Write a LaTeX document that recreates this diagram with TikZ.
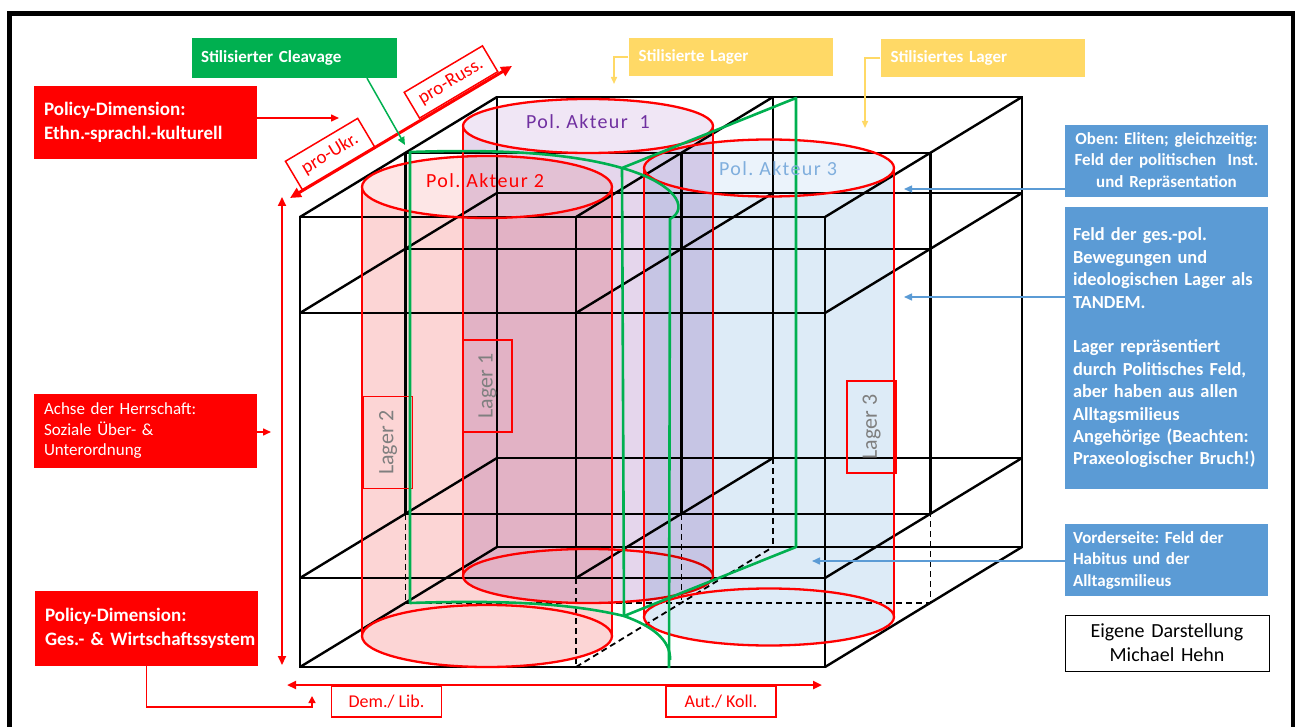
\documentclass[tikz,border=0pt]{standalone}
\usepackage{fontspec}
\setmainfont{Carlito}
\newfontfamily\widefont[LetterSpace=7]{Carlito}
\usetikzlibrary{arrows.meta}

\definecolor{pptred}{HTML}{FF0000}
\definecolor{pptgreen}{HTML}{00B050}
\definecolor{pptyellow}{HTML}{FFD966}
\definecolor{pptblue}{HTML}{5B9BD5}
\definecolor{actorpurple}{HTML}{7030A0}
\definecolor{actorblue}{HTML}{7FAEDD}
\definecolor{lagergray}{HTML}{7F7F7F}
\definecolor{cylAbody}{HTML}{E5D6EC}
\definecolor{cylAtop}{HTML}{F0E6F5}
\definecolor{cylBbody}{HTML}{FCD5D5}
\definecolor{cylBtop}{HTML}{FDE6E6}
\definecolor{cylCbody}{HTML}{DDEBF7}
\definecolor{cylCtop}{HTML}{EBF3FB}

% font sizes (1pt = 1px of the final picture)
\newcommand\fsbig{\fontsize{19}{24}\selectfont}
\newcommand\fsachse{\fontsize{17}{20.5}\selectfont}
\newcommand\fsmid{\fontsize{17}{21}\selectfont}
\newcommand\fsblue{\fontsize{17}{21.5}\selectfont}
\newcommand\fsfeld{\fontsize{18.4}{22.4}\selectfont}
\newcommand\fscredit{\fontsize{20}{24}\selectfont}
\newcommand\fspole{\fontsize{18}{22}\selectfont}
\newcommand\fspro{\fontsize{19}{22}\selectfont}
\newcommand\fsactor{\fontsize{20}{24}\selectfont}
\newcommand\fslager{\fontsize{22}{26}\selectfont}

% transparent cylinder: centre x, lid y, base y, x radius, y radius, body colour, lid colour
\newcommand\drawcylinder[7]{%
  \begin{scope}[blend mode=multiply]
    \fill[#6] (#1-#4,#2) -- (#1-#4,#3) arc[start angle=180,end angle=0,x radius=#4,y radius=#5]
      -- (#1+#4,#2) arc[start angle=0,end angle=180,x radius=#4,y radius=#5] -- cycle;
    \fill[#7] (#1,#2) ellipse[x radius=#4,y radius=#5];
  \end{scope}
  \draw[cylline] (#1-#4,#2) -- (#1-#4,#3) (#1+#4,#2) -- (#1+#4,#3);
  \draw[cylline] (#1,#3) ellipse[x radius=#4,y radius=#5];
  \draw[cylline] (#1,#2) ellipse[x radius=#4,y radius=#5];
}

\begin{document}
\frenchspacing
\begin{tikzpicture}[x=1pt,y=-1pt,z={(197pt,120pt)},
  cube/.style={line width=2.4pt},
  hidden/.style={line width=1.8pt,dash pattern=on 6pt off 4pt},
  cylline/.style={draw=pptred,line width=2.3pt},
  cleave/.style={draw=pptgreen,line width=2.6pt},
  redbox/.style={fill=pptred,text=white,text width=203pt,inner xsep=10pt,inner ysep=0pt,align=left},
  greenbox/.style={fill=pptgreen,text=white,font=\bfseries\fsmid,text width=187pt,inner xsep=9pt,inner ysep=0pt,minimum height=40pt,align=left},
  yellowbox/.style={fill=pptyellow,text=white,font=\bfseries\fsmid,text width=184pt,inner xsep=10pt,inner ysep=0pt,minimum height=38pt,align=left},
  bluebox/.style={fill=pptblue,text=white,font=\bfseries\fsblue,text width=187pt,inner xsep=8pt,inner ysep=0pt},
  creditbox/.style={draw=black,line width=1pt,fill=white,font=\fscredit,text width=190pt,inner xsep=7pt,inner ysep=0pt,minimum height=56pt,align=center},
  polebox/.style={draw=pptred,line width=1.5pt,fill=white,text=pptred,font=\fspole,minimum width=110pt,minimum height=31pt,inner sep=0pt},
  probox/.style={draw=pptred,line width=1.5pt,fill=white,text=pptred,font=\fspro,rotate=30.7,inner sep=0pt},
  lagerbox/.style={draw=pptred,line width=1.5pt,rotate=90,text=lagergray,font=\fslager,minimum width=92pt,minimum height=49pt,inner sep=0pt},
  actor/.style={font=\widefont\fsactor,inner sep=0pt},
  redarrow/.style={draw=pptred,line width=1.5pt,-{Triangle[length=8pt,width=7pt]}},
  yellowarrow/.style={draw=pptyellow,line width=1.5pt,-{Triangle[length=7pt,width=6pt]}},
  bluearrow/.style={draw=pptblue,line width=1.5pt,-{Triangle[length=8pt,width=7pt]}},
]
\useasboundingbox (0,0) rectangle (1295,727);

% outer frame
\draw[line width=5pt] (9.5,760) -- (9.5,13.5) -- (1293.5,13.5) -- (1293.5,760);

% ---- the cube: front, middle and back planes ----
\foreach \z in {0,1} {
  \draw[cube] (300,217,\z) -- (825,217,\z) -- (825,667,\z) -- (300,667,\z) -- cycle;
  \draw[cube] (300,313,\z) -- (825,313,\z);
  \draw[cube] (300,578,\z) -- (825,578,\z);
  \draw[cube] (576,217,\z) -- (576,578,\z);
  \draw[hidden] (576,578,\z) -- (576,667,\z);
}
\draw[cube] (300,578,0.535) -- (300,217,0.535) -- (825,217,0.535) -- (825,578,0.535);
\draw[cube] (300,313,0.535) -- (825,313,0.535);
\draw[cube] (300,578,0.535) -- (825,578,0.535);
\draw[cube] (576,217,0.535) -- (576,578,0.535);
\draw[hidden] (300,578,0.535) -- (300,667,0.535) -- (825,667,0.535) -- (825,578,0.535);
\draw[hidden] (576,578,0.535) -- (576,667,0.535);
% depth edges
\foreach \x in {300,576,825} \foreach \y in {217,313,578}
  \draw[cube] (\x,\y,0) -- (\x,\y,1);
\draw[cube] (300,667,0) -- (300,667,1);
\draw[cube] (825,667,0) -- (825,667,1);
\draw[hidden] (576,667,0) -- (576,667,1);

% ---- actors as cylinders ----
\drawcylinder{588}{126}{576}{125}{27}{cylAbody}{cylAtop}
\drawcylinder{487}{187}{636}{125}{31}{cylBbody}{cylBtop}
\drawcylinder{769}{168}{617}{125}{28.5}{cylCbody}{cylCtop}

% camps
\node[lagerbox] (lagI) at (487.5,386) {Lager 1};
\node[lagerbox] (lagII) at (388,442.5) {Lager 2};
\node[lagerbox] (lagIII) at (871.5,427) {Lager 3};

% ---- stylised cleavage ----
\draw[cleave,line join=round] (410,152) .. controls (500,149) and (570,153) .. (622,168)
  -- (796,98) -- (796,547) -- (624,616) .. controls (570,603) and (500,600) .. (410,603) -- cycle;
\draw[cleave] (622,168) -- (624,616);
\draw[cleave] (622,168) .. controls (675,183) and (690,208) .. (670,219) -- (669,668);
\draw[cleave] (624,616) .. controls (652,626) and (671,640) .. (670,660);

\node[actor,text=actorpurple] (actA) at (588,122) {Pol. Akteur~~1};
\node[actor,text=pptred] (actB) at (485,181) {Pol. Akteur 2};
\node[actor,text=actorblue] (actC) at (778,169) {Pol. Akteur 3};

% ---- left side: policy dimensions and axis of domination ----
\node[redbox,font=\bfseries\fsbig,minimum height=73pt] (polEth) at (145.5,122.5)
  {Policy-Dimension:\\Ethn.-sprachl.-kulturell};
\node[redbox,font=\fsachse,minimum height=74pt] (achse) at (145.5,431)
  {Achse der Herrschaft:\\Soziale Über- \&\\Unterordnung};
\node[redbox,font=\bfseries\fsbig,minimum height=75pt] (polGes) at (146.5,628.5)
  {Policy-Dimension:\\\mbox{Ges.- \& Wirtschaftssystem}};

\coordinate (ethTip) at (339,118);
\draw[redarrow] (polEth.east |- ethTip) -- (ethTip);
\coordinate (achseTip) at (271,432);
\draw[redarrow] (achse.east |- achseTip) -- (achseTip);
\coordinate (gesBend) at (312,707);
\coordinate (gesTip) at (312,696);
\draw[draw=pptred,line width=1.5pt,-{Triangle[length=7pt,width=7pt]}] (polGes.south) |- (gesBend) -- (gesTip);

% ethnic-linguistic axis
\coordinate (ukrEnd) at (290,198);
\coordinate (rusEnd) at (512,66);
\draw[draw=pptred,line width=3pt,{Triangle[length=11pt,width=10pt]}-{Triangle[length=11pt,width=10pt]}] (ukrEnd) -- (rusEnd);
\node[probox,minimum width=84pt,minimum height=33pt] (ukr) at (330,154) {pro-Ukr.};
\node[probox,minimum width=91pt,minimum height=30pt] (russ) at (451,82) {pro-Russ.};

% vertical axis of domination
\coordinate (vTop) at (282,197);
\coordinate (vBot) at (282,665);
\draw[draw=pptred,line width=2pt,{Triangle[length=9pt,width=8pt]}-{Triangle[length=9pt,width=8pt]}] (vTop) -- (vBot);

% economic axis
\coordinate (hLeft) at (287,685);
\coordinate (hRight) at (822,685);
\draw[draw=pptred,line width=2.5pt,{Triangle[length=9pt,width=8pt]}-{Triangle[length=9pt,width=8pt]}] (hLeft) -- (hRight);
\node[polebox] (dem) at (386.5,701.5) {Dem./ Lib.};
\node[polebox] (aut) at (721,701.5) {Aut./ Koll.};

% ---- top labels ----
\node[greenbox] (cleav) at (294.5,58) {Stilisierter Cleavage};
\coordinate (cleavTip) at (405,145);
\draw[draw=pptgreen,line width=1.5pt,-{Triangle[length=8pt,width=7pt]}] ([xshift=72.5pt]cleav.south) -- (cleavTip);

\node[yellowbox] (lagerA) at (730.5,57) {Stilisierte Lager};
\coordinate (lagerAtip) at (614,84);
\draw[yellowarrow] (lagerA.west) -| (lagerAtip);
\node[yellowbox] (lagerB) at (982.5,58) {Stilisiertes Lager};
\coordinate (lagerBtip) at (865,128);
\draw[yellowarrow] (lagerB.west) -| (lagerBtip);

% ---- right side: fields ----
\node[bluebox,align=center,minimum height=72pt,text width=195pt,inner xsep=4pt] (oben) at (1166.5,161)
  {\mbox{Oben: Eliten; gleichzeitig:}\\\mbox{Feld der politischen\ \ Inst.}\\und Repräsentation};
\node[bluebox,font=\bfseries\fsfeld,align=left,minimum height=282pt] (feld) at (1166.5,348)
  {Feld der ges.-pol.\\Bewegungen und\\\mbox{ideologischen Lager als}\\TANDEM.\\[22.4pt]Lager repräsentiert\\\mbox{durch Politisches Feld,}\\aber haben aus allen\\Alltagsmilieus\\\mbox{Angehörige (Beachten:}\\\mbox{Praxeologischer Bruch!)}};
\node[bluebox,align=left,minimum height=72pt] (vord) at (1166.5,560)
  {Vorderseite: Feld der\\Habitus und der\\Alltagsmilieus};
\node[creditbox] (credit) at (1167,643) {Eigene Darstellung\\Michael Hehn};

\coordinate (obenTip) at (904,189);
\draw[bluearrow] (oben.west |- obenTip) -- (obenTip);
\coordinate (feldTip) at (904,297);
\draw[bluearrow] (feld.west |- feldTip) -- (feldTip);
\coordinate (vordTip) at (812,561);
\draw[bluearrow] (vord.west |- vordTip) -- (vordTip);
\end{tikzpicture}
\end{document}
